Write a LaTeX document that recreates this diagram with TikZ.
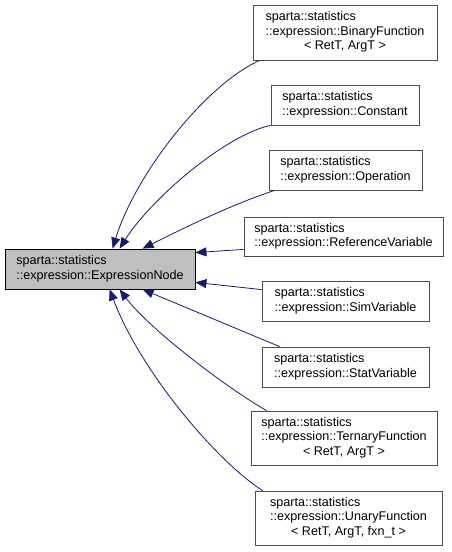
\documentclass[tikz,border=0pt]{standalone}
\usepackage{fontspec}
\setmainfont{Liberation Sans}
\usetikzlibrary{arrows.meta}
\definecolor{midnightblue}{RGB}{25,25,112}
\definecolor{grey75}{RGB}{191,191,191}
\definecolor{grey30}{RGB}{77,77,77}
\newcommand{\clsname}[1]{\begin{tabular}{@{}l@{}}sparta::statistics\\::expression::#1\end{tabular}}
\newcommand{\tmplname}[2]{\begin{tabular}{@{}l@{}}sparta::statistics\\::expression::#1\\\multicolumn{1}{@{}c@{}}{#2}\end{tabular}}
\tikzset{
  cls/.style={draw=grey30, fill=white, line width=0.8pt, inner sep=0pt, font=\fontsize{12.6}{14.4}\selectfont},
  base/.style={cls, draw=black, fill=grey75},
  edge/.style={draw=midnightblue, line width=0.8pt, -{Triangle[length=11pt,width=9pt]}}
}
\begin{document}
\begin{tikzpicture}[x=1pt,y=-1pt]
\useasboundingbox (0,0) rectangle (452,552);
\node[base, minimum width=190pt, minimum height=40pt] (expr) at (100,269) {\clsname{ExpressionNode}};
\node[cls, minimum width=184pt, minimum height=55pt] (binfn) at (345,32.5) {\tmplname{BinaryFunction}{< RetT, ArgT >}};
\node[cls, minimum width=148pt, minimum height=40pt] (const) at (345,105) {\clsname{Constant}};
\node[cls, minimum width=153pt, minimum height=40pt] (oper) at (345.5,170) {\clsname{Operation}};
\node[cls, minimum width=199pt, minimum height=39pt] (refvar) at (343.5,236.5) {\clsname{ReferenceVariable}};
\node[cls, minimum width=167pt, minimum height=40pt] (simvar) at (345.5,301) {\clsname{SimVariable}};
\node[cls, minimum width=167pt, minimum height=40pt] (statvar) at (345.5,367) {\clsname{StatVariable}};
\node[cls, minimum width=186pt, minimum height=54pt] (ternfn) at (344,438) {\tmplname{TernaryFunction}{< RetT, ArgT >}};
\node[cls, minimum width=187pt, minimum height=54pt] (unfn) at (348.5,518) {\tmplname{UnaryFunction}{< RetT, ArgT, fxn\_t >}};
% edges above
\draw[edge] ([xshift=7pt]binfn.south west) .. controls (205,85) and (135,175) .. ([xshift=108pt]expr.north west);
\draw[edge] (const.south west) .. controls (225,135) and (150,200) .. ([xshift=115pt]expr.north west);
\draw[edge] ([xshift=6pt]oper.south west) .. controls (230,205) and (180,230) .. ([xshift=138pt]expr.north west);
\draw[edge] ([yshift=7pt]refvar.south west) -- ([yshift=-4pt]expr.north east);
% edges below
\draw[edge] ([yshift=-9pt]simvar.north west) -- ([yshift=7pt]expr.south east);
\draw[edge] ([xshift=18pt]statvar.north west) -- ([xshift=138pt]expr.south west);
\draw[edge] ([xshift=16pt]ternfn.north west) .. controls (230,390) and (150,330) .. ([xshift=115pt]expr.south west);
\draw[edge] ([xshift=8pt]unfn.north west) .. controls (215,460) and (140,370) .. ([xshift=105pt]expr.south west);
\end{tikzpicture}
\end{document}
